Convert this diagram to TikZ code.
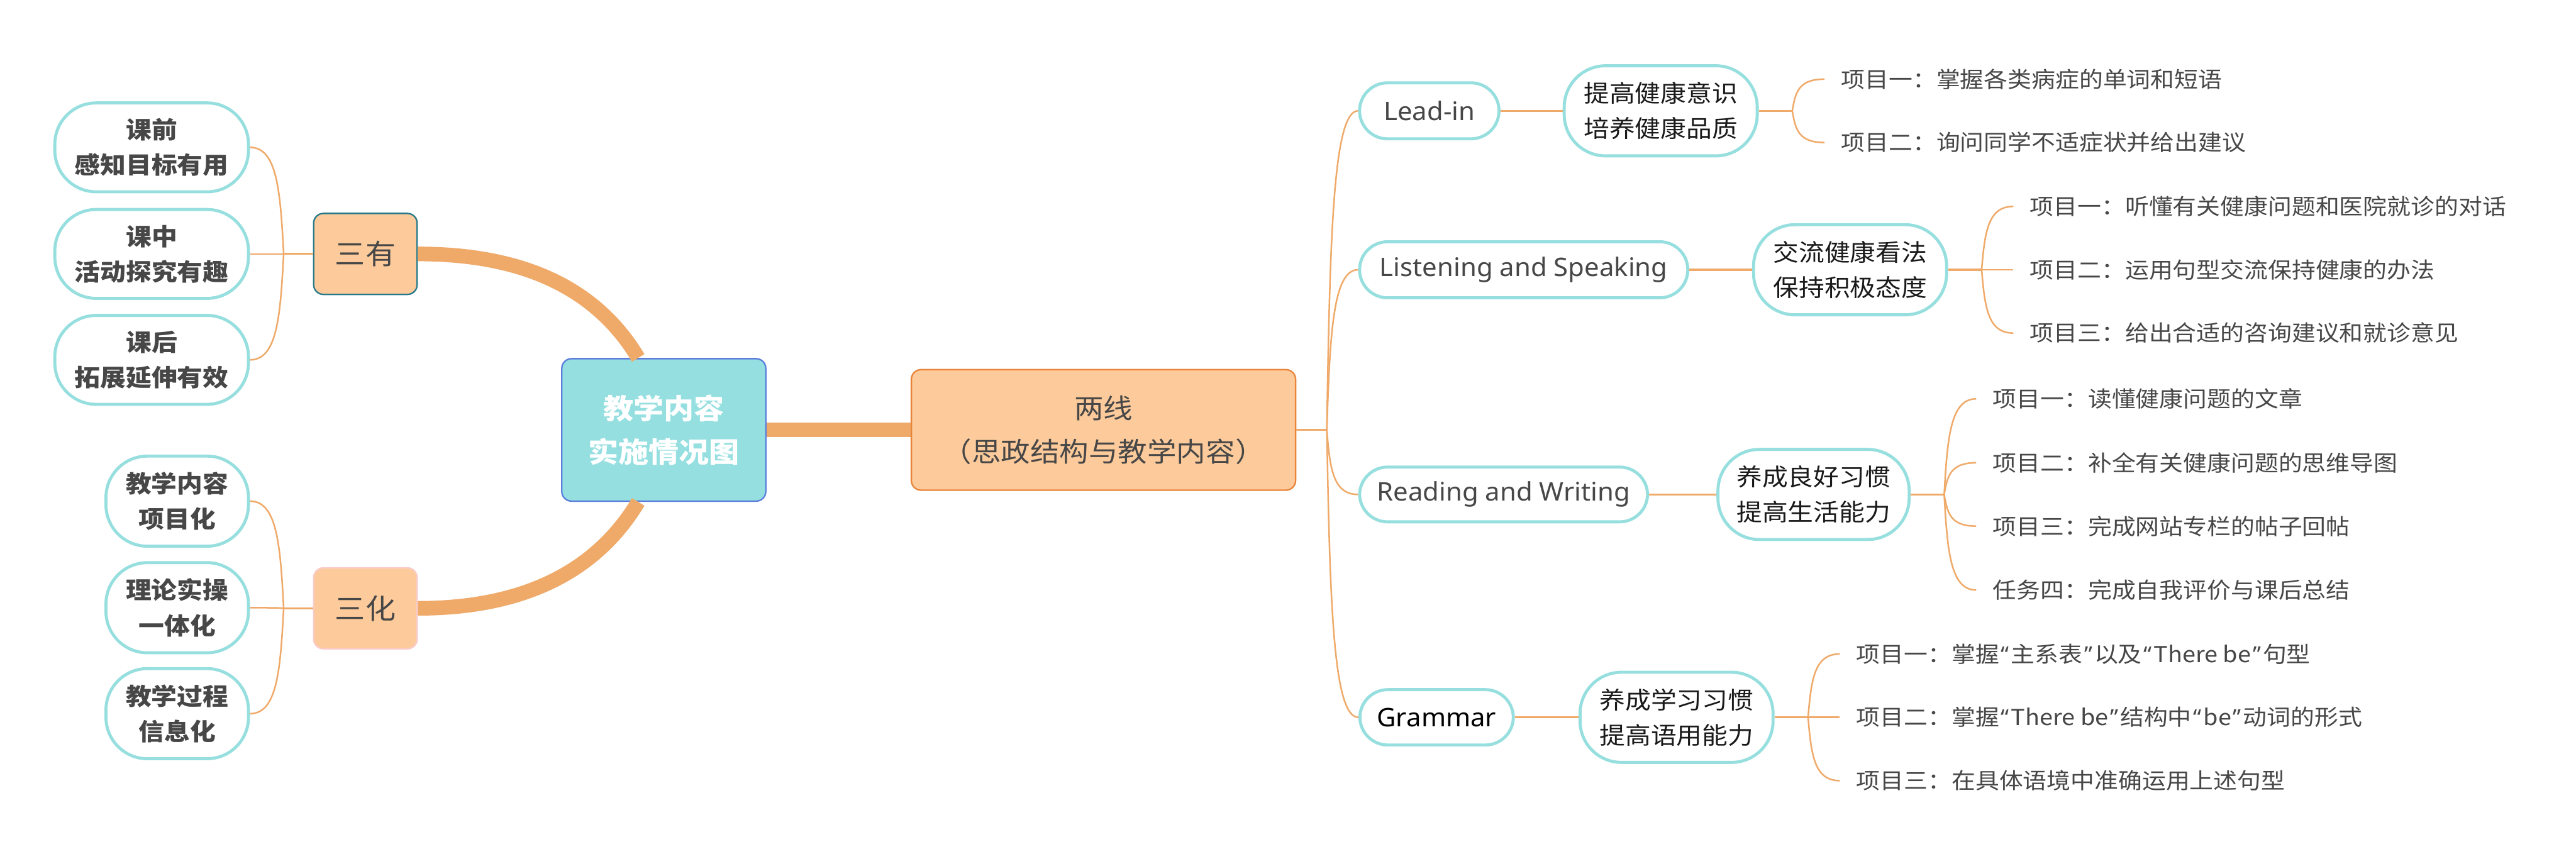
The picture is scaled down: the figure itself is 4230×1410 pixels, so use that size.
\documentclass[tikz,border=0pt]{standalone}
\usepackage{fontspec}
\setmainfont{Noto Sans CJK SC}[FakeStretch=1.08]
\newfontfamily\latinf{Noto Sans}[FakeStretch=1.03]
\usetikzlibrary{calc}
\definecolor{lc}{HTML}{EFAA6A}
\definecolor{cy}{HTML}{97DFDF}
\definecolor{cfill}{HTML}{95DFE0}
\definecolor{cbord}{HTML}{5C7FDD}
\definecolor{ofill}{HTML}{FDCB9B}
\definecolor{obord}{HTML}{E8853A}
\definecolor{tbord}{HTML}{277A8A}
\definecolor{pbord}{HTML}{F9CBCB}
\definecolor{tx}{HTML}{474747}
\definecolor{tb}{HTML}{1A1A1A}
\newcommand\qo{{\kern1.5pt\latinf “\kern1.5pt}}
\newcommand\qc{{\kern1.5pt\latinf ”\kern1.5pt}}
\newcommand\brc[2]{\draw[br] let \p1=(#1), \p2=(#2) in (\p1) .. controls ({\x1+0.1*(\x2-\x1)},{\y1+0.6*(\y2-\y1)}) and ({\x1+0.2*(\x2-\x1)},\y2) .. (\p2);}
\tikzset{
 pill/.style={draw=cy, line width=2.5pt, fill=white, rounded corners=23pt, inner sep=0pt, font=\latinf\fontsize{21}{25}\selectfont, text=tx},
 bigpill/.style={draw=cy, line width=2.5pt, fill=white, rounded corners=34pt, inner sep=0pt, align=center, font=\fontsize{19.5}{29}\selectfont},
 lbox/.style={bigpill, minimum width=159pt, minimum height=73pt, text=tx, font=\bfseries\fontsize{19.5}{29}\selectfont},
 lbox2/.style={bigpill, minimum width=117pt, minimum height=74pt, text=tx, font=\bfseries\fontsize{19.5}{29}\selectfont},
 rbox/.style={bigpill, minimum width=158.5pt, minimum height=74pt, text=tb},
 item/.style={anchor=west, inner xsep=13.5pt, inner ysep=0pt, text=tx, font=\fontsize{18.1}{26}\selectfont},
 stub/.style={draw=lc, line width=1.6pt},
 br/.style={draw=lc, line width=1.3pt},
 fat/.style={draw=lc, line width=12pt},
 sbox/.style={line width=1.2pt, fill=ofill, rounded corners=8pt, minimum width=85pt, minimum height=66.5pt, text=tx, font=\fontsize{23}{28}\selectfont},
}
\begin{document}
\begin{tikzpicture}[x=0.5pt, y=-0.5pt]
\useasboundingbox (0,0) rectangle (4230,1410);
% central nodes
\node[draw=cbord, line width=1.2pt, fill=cfill, rounded corners=8pt, minimum width=167.5pt, minimum height=117pt, align=center, text=white, font=\bfseries\fontsize{23}{35.5}\selectfont] (center) at (1090,706) {教学内容\\实施情况图};
\node[draw=obord, line width=1.2pt, fill=ofill, rounded corners=8pt, minimum width=315.5pt, minimum height=99pt, align=center, text=tx, font=\fontsize{22.25}{35.5}\selectfont] (liang) at (1812,706) {两线\\（思政结构与教学内容）};
\node[sbox, draw=tbord] (sanyou) at (600,417) {三有};
\node[sbox, draw=pbord] (sanhua) at (600,999) {三化};
% left children
\node[lbox] (kq) at (249,242) {课前\\感知目标有用};
\node[lbox] (kz) at (249,417) {课中\\活动探究有趣};
\node[lbox] (kh) at (249,591) {课后\\拓展延伸有效};
\node[lbox2] (h1) at (291,823) {教学内容\\项目化};
\node[lbox2] (h2) at (291,998) {理论实操\\一体化};
\node[lbox2] (h3) at (291,1172) {教学过程\\信息化};
% right level 1
\node[pill, minimum width=114.5pt, minimum height=46pt] (lead) at (2347,182) {Lead-in};
\node[pill, minimum width=269.5pt, minimum height=46pt] (ls) at (2502,443) {Listening and Speaking};
\node[pill, minimum width=236.5pt, minimum height=45pt] (rw) at (2469,812) {Reading and Writing};
\node[pill, minimum width=126pt, minimum height=45.5pt, text=black, font=\latinf\bfseries\fontsize{21}{25}\selectfont] (gr) at (2359,1178) {Grammar};
% right level 2
\node[rbox] (ra) at (2727,182) {提高健康意识\\培养健康品质};
\node[rbox] (rb) at (3038,443) {交流健康看法\\保持积极态度};
\node[rbox, minimum width=157pt] (rc) at (2978,812) {养成良好习惯\\提高生活能力};
\node[rbox] (rd) at (2753,1178) {养成学习习惯\\提高语用能力};
% items
\node[item] (a1) at (2996,130) {项目一：掌握各类病症的单词和短语};
\node[item] (a2) at (2996,234) {项目二：询问同学不适症状并给出建议};
\node[item] (b1) at (3306,339) {项目一：听懂有关健康问题和医院就诊的对话};
\node[item] (b2) at (3306,443) {项目二：运用句型交流保持健康的办法};
\node[item] (b3) at (3306,547) {项目三：给出合适的咨询建议和就诊意见};
\node[item] (c1) at (3245,655) {项目一：读懂健康问题的文章};
\node[item] (c2) at (3245,760) {项目二：补全有关健康问题的思维导图};
\node[item] (c3) at (3245,864) {项目三：完成网站专栏的帖子回帖};
\node[item] (c4) at (3245,969) {任务四：完成自我评价与课后总结};
\node[item] (d1) at (3021,1074) {项目一：掌握\qo 主系表\qc 以及\qo There be\qc 句型};
\node[item] (d2) at (3021,1178) {项目二：掌握\qo There be\qc 结构中\qo be\qc 动词的形式};
\node[item] (d3) at (3021,1282) {项目三：在具体语境中准确运用上述句型};
% thick connectors
\draw[fat] (center.east) -- (liang.west);
\coordinate (cn) at ($(center.north)+(-42,0)$);
\coordinate (cs) at ($(center.south)+(-42,0)$);
\draw[fat] (sanyou.east) .. controls +(180,0) and +(-66,-110) .. (cn);
\draw[fat] (sanhua.east) .. controls +(180,0) and +(-66,110) .. (cs);
% left branches
\coordinate (jy) at ($(sanyou.west)+(-48,0)$);
\draw[stub] (sanyou.west) -- (jy);
\brc{jy}{kq.east}\brc{jy}{kz.east}\brc{jy}{kh.east}
\coordinate (jh) at ($(sanhua.west)+(-48,0)$);
\draw[stub] (sanhua.west) -- (jh);
\brc{jh}{h1.east}\brc{jh}{h2.east}\brc{jh}{h3.east}
% right branches
\coordinate (jl) at ($(liang.east)+(50,0)$);
\draw[stub] (liang.east) -- (jl);
\brc{jl}{lead.west}\brc{jl}{ls.west}\brc{jl}{rw.west}\brc{jl}{gr.west}
\draw[stub] (lead.east) -- (ra.west);
\draw[stub] (ls.east) -- (rb.west);
\draw[stub] (rw.east) -- (rc.west);
\draw[stub] (gr.east) -- (rd.west);
\coordinate (ja) at ($(ra.east)+(55,0)$);
\draw[stub] (ra.east) -- (ja);
\brc{ja}{a1.west}\brc{ja}{a2.west}
\coordinate (jb) at ($(rb.east)+(55,0)$);
\draw[stub] (rb.east) -- (jb);
\brc{jb}{b1.west}\brc{jb}{b2.west}\brc{jb}{b3.west}
\coordinate (jc) at ($(rc.east)+(55,0)$);
\draw[stub] (rc.east) -- (jc);
\brc{jc}{c1.west}\brc{jc}{c2.west}\brc{jc}{c3.west}\brc{jc}{c4.west}
\coordinate (jd) at ($(rd.east)+(55,0)$);
\draw[stub] (rd.east) -- (jd);
\brc{jd}{d1.west}\brc{jd}{d2.west}\brc{jd}{d3.west}
\end{tikzpicture}
\end{document}
